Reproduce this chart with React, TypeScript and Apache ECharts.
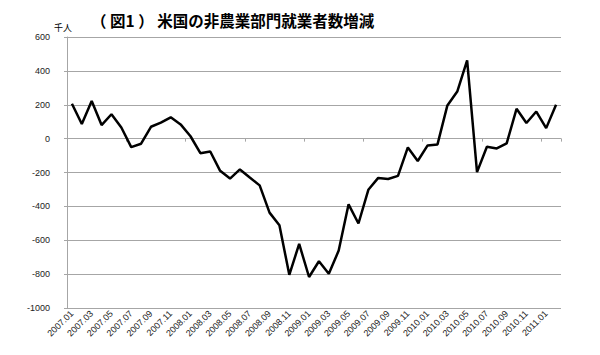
import React, { useEffect, useRef } from "react";
import * as echarts from "echarts";

const months: string[] = [
  "2007.01","2007.02","2007.03","2007.04","2007.05","2007.06","2007.07","2007.08","2007.09","2007.10","2007.11","2007.12",
  "2008.01","2008.02","2008.03","2008.04","2008.05","2008.06","2008.07","2008.08","2008.09","2008.10","2008.11","2008.12",
  "2009.01","2009.02","2009.03","2009.04","2009.05","2009.06","2009.07","2009.08","2009.09","2009.10","2009.11","2009.12",
  "2010.01","2010.02","2010.03","2010.04","2010.05","2010.06","2010.07","2010.08","2010.09","2010.10","2010.11","2010.12",
  "2011.01","2011.02",
];

const changes: number[] = [
  206, 86, 222, 80, 144, 66, -50, -30, 70, 94, 126, 84,
  14, -86, -76, -190, -236, -182, -230, -276, -437, -511, -804, -622,
  -817, -724, -798, -661, -388, -501, -302, -232, -238, -220, -52, -132,
  -40, -34, 196, 278, 462, -198, -48, -58, -28, 176, 92, 160,
  62, 200,
];

const yTicks = { min: -1000, max: 600, interval: 200 };

const titleText = "（ 図1 ） 米国の非農業部門就業者数増減";
const unitText = "千人";

export default function App() {
  const ref = useRef<HTMLDivElement>(null);
  useEffect(() => {
    if (!ref.current) return;
    const chart = echarts.init(ref.current, null, { renderer: "svg" });
    const font = "'Liberation Sans', Arial, sans-serif";
    chart.setOption({
      animation: false,
      backgroundColor: "#ffffff",
      title: {
        text: titleText,
        left: 86,
        top: 7,
        textStyle: {
          fontFamily: "'Noto Sans CJK JP', sans-serif",
          fontSize: 15.5,
          fontWeight: "bold",
          color: "#000",
        },
      },
      graphic: [
        {
          type: "text",
          left: 54,
          top: 23,
          style: {
            text: unitText,
            font: "9px 'Noto Sans CJK JP', sans-serif",
            fill: "#000",
          },
        },
      ],
      grid: { left: 67, right: 39, top: 37, bottom: 47 },
      xAxis: [
        {
          type: "category",
          data: months,
          boundaryGap: true,
          axisLine: { onZero: true, lineStyle: { color: "#a6a6a6", width: 1 } },
          axisTick: { show: true, length: 3, lineStyle: { color: "#a6a6a6" } },
          axisLabel: { show: false },
          splitLine: { show: false },
        },
        {
          type: "category",
          data: months,
          position: "bottom",
          boundaryGap: true,
          axisLine: { show: false, onZero: false },
          axisTick: { show: false },
          axisLabel: {
            interval: 1,
            rotate: 45,
            fontSize: 9,
            fontFamily: font,
            color: "#222",
            margin: 4,
          },
        },
      ],
      yAxis: {
        type: "value",
        min: yTicks.min,
        max: yTicks.max,
        interval: yTicks.interval,
        axisLine: { show: true, lineStyle: { color: "#a6a6a6", width: 1 } },
        axisTick: { show: true, length: 3, lineStyle: { color: "#a6a6a6" } },
        axisLabel: {
          fontSize: 9,
          fontFamily: font,
          color: "#222",
          margin: 17,
          formatter: (v: number) => String(v),
        },
        splitLine: { show: true, lineStyle: { color: "#a6a6a6", width: 1 } },
      },
      series: [
        {
          type: "line",
          xAxisIndex: 0,
          data: changes,
          symbol: "none",
          lineStyle: { color: "#000", width: 2.5 },
        },
      ],
    });
    return () => chart.dispose();
  }, []);
  return <div ref={ref} style={{ width: 600, height: 355, margin: -8 }} />;
}
